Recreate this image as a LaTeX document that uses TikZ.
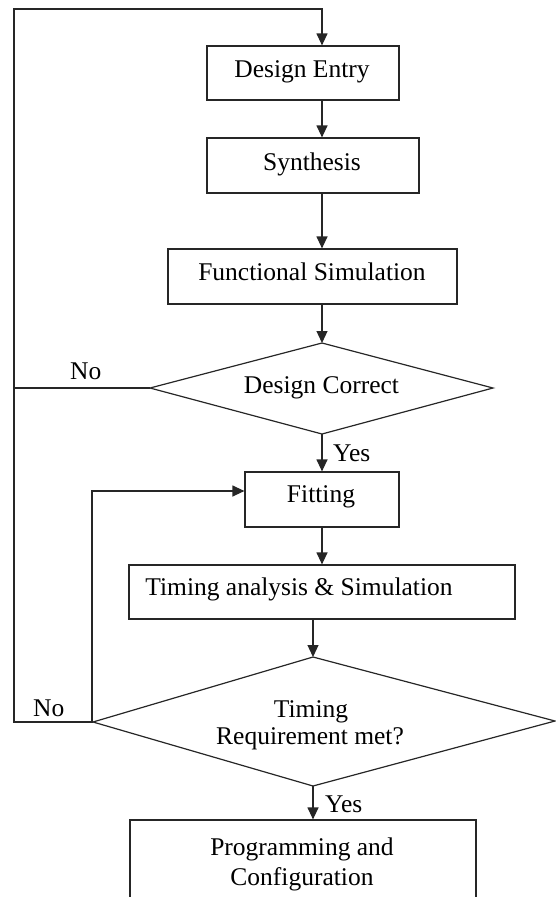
\documentclass[tikz,border=0pt]{standalone}
\usepackage{fontspec}
\setmainfont{Liberation Serif}
\usetikzlibrary{arrows.meta}
\tikzset{
  ln/.style={line width=1.2pt, draw=black!85},
  box/.style={ln, draw, rectangle, inner sep=0pt},
  txt/.style={inner sep=0pt, font=\fontsize{25.5}{27}\selectfont},
  arr/.style={ln, -{Triangle[width=11pt,length=12pt]}}
}
\begin{document}
\begin{tikzpicture}[x=1pt,y=-1pt]
\useasboundingbox (0,0) rectangle (556,897);
\clip (0,0) rectangle (556,897);
% boxes
\node[box, minimum width=192pt, minimum height=54pt] (de) at (303,73) {};
\node[box, minimum width=212pt, minimum height=55pt] (syn) at (313,165.5) {};
\node[box, minimum width=289pt, minimum height=55pt] (fs) at (312.5,276.5) {};
\node[box, minimum width=154pt, minimum height=55pt] (fit) at (322,499.5) {};
\node[box, minimum width=386pt, minimum height=54pt] (tim) at (322,592) {};
\node[box, minimum width=346pt, minimum height=110pt] (prog) at (303,875) {};
% diamonds
\coordinate (d1l) at (150,388);
\coordinate (d1t) at (322,343);
\coordinate (d1r) at (493,388);
\coordinate (d1b) at (322,434);
\draw[ln] (d1l) -- (d1t) -- (d1r) -- (d1b) -- cycle;
\coordinate (d2l) at (93,722);
\coordinate (d2t) at (313,657);
\coordinate (d2r) at (555,721);
\coordinate (d2b) at (313,786);
\draw[ln] (d2l) -- (d2t) -- (d2r) -- (d2b) -- cycle;
% texts
\node[txt, anchor=base] at (302,77) {Design Entry};
\node[txt, anchor=base] at (312,170) {Synthesis};
\node[txt, anchor=base] at (312,280) {Functional Simulation};
\node[txt, anchor=base] at (321.5,393) {Design Correct};
\node[txt, anchor=base] at (321,502) {Fitting};
\node[txt, anchor=base] at (299,595) {Timing analysis \& Simulation};
\node[txt, anchor=base] at (311,717) {Timing};
\node[txt, anchor=base] at (310,744) {Requirement met?};
\node[txt, anchor=base] at (302,855) {Programming and};
\node[txt, anchor=base] at (302,885) {Configuration};
\node[txt, anchor=base west] at (70,379) {No};
\node[txt, anchor=base west] at (33,716) {No};
\node[txt, anchor=base west] at (333,461) {Yes};
\node[txt, anchor=base west] at (325,812) {Yes};
% connectors
\coordinate (lt) at (14,9);
\coordinate (rt) at (322,9);
\coordinate (lb) at (14,722);
\coordinate (fl) at (92,491);
\draw[arr] (d2l) -- (lb) -- (lt) -- (rt) -- (de.north -| rt);
\draw[ln] (d1l) -- (d1l -| lb);
\draw[arr] (d2l -| fl) -- (fl) -- (fit.west |- fl);
\draw[arr] (de.south -| rt) -- (syn.north -| rt);
\draw[arr] (syn.south -| rt) -- (fs.north -| rt);
\draw[arr] (fs.south -| rt) -- (d1t);
\draw[arr] (d1b) -- (fit.north -| d1b);
\draw[arr] (fit.south -| d1b) -- (tim.north -| d1b);
\draw[arr] (tim.south -| d2t) -- (d2t);
\draw[arr] (d2b) -- (prog.north -| d2b);
\end{tikzpicture}
\end{document}
